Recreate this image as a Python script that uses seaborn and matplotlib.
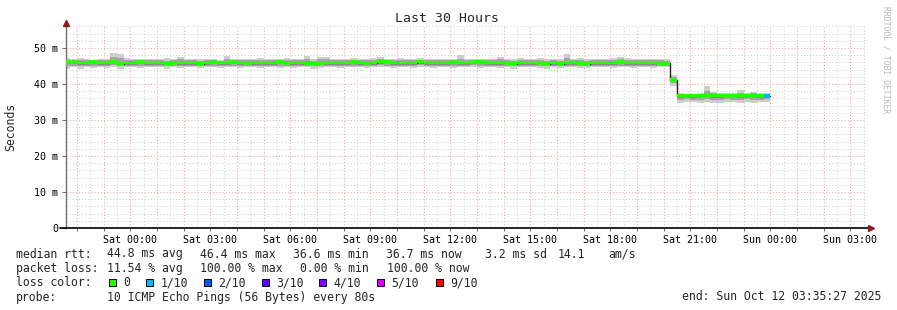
import numpy as np
import pandas as pd
import matplotlib
matplotlib.use("Agg")
import matplotlib.pyplot as plt
import matplotlib.dates as mdates
from matplotlib.patches import Rectangle
from matplotlib.ticker import FixedLocator, FuncFormatter
import seaborn as sns

# ---------------- data ----------------
bin_start = pd.date_range("2025-10-10 21:30", periods=106, freq="15min")
bin_minutes = 15
view_start = pd.Timestamp("2025-10-10 21:35:27")
view_end = pd.Timestamp("2025-10-12 03:35:27")

median_ms = [
    46.0, 46.0, 45.9, 45.9, 46.0, 45.9, 45.9, 46.0, 45.5, 45.9,
    45.9, 46.0, 45.9, 45.9, 45.9, 45.5, 45.8, 45.9, 45.9, 45.9,
    45.5, 45.9, 46.0, 45.9, 45.9, 46.0, 45.9, 45.8, 45.9, 45.9,
    45.9, 45.9, 46.0, 45.8, 45.9, 45.9, 45.8, 45.5, 45.8, 45.9,
    45.9, 45.9, 45.9, 46.0, 45.9, 45.8, 45.9, 46.2, 46.1, 45.9,
    45.9, 45.9, 45.9, 46.2, 45.9, 45.9, 45.9, 45.9, 46.0, 45.9,
    45.9, 46.1, 46.1, 45.9, 45.9, 45.9, 45.8, 45.5, 45.9, 45.9,
    45.9, 45.8, 45.5, 45.9, 45.5, 45.9, 45.9, 45.8, 45.5, 45.9,
    45.9, 45.9, 45.9, 46.0, 45.9, 45.9, 45.9, 45.9, 45.9, 45.8, 45.8,
    41.1,
    36.7, 36.6, 36.7, 36.6, 36.6, 36.7, 36.7, 36.6, 36.6, 36.7, 36.6, 36.6, 36.7, 36.6,
]
smoke_hi = [
    47.2, 46.9, 47.1, 46.9, 46.8, 46.9, 46.9, 48.7, 48.3, 47.1,
    47.0, 46.9, 46.9, 47.0, 47.0, 47.1, 47.0, 47.6, 47.0, 46.9,
    47.0, 46.9, 47.0, 46.8, 47.9, 47.0, 46.9, 47.0, 47.0, 47.1,
    46.9, 47.0, 47.0, 47.1, 47.0, 46.9, 47.7, 46.9, 47.6, 47.6,
    47.0, 46.9, 47.0, 47.1, 47.0, 46.9, 47.1, 47.5, 47.0, 47.0,
    47.1, 46.9, 47.0, 47.2, 47.0, 47.0, 46.9, 47.0, 47.0, 48.1,
    47.0, 47.0, 47.0, 46.9, 47.0, 47.6, 47.0, 47.0, 47.1, 47.0,
    47.0, 47.2, 47.0, 47.0, 47.0, 48.4, 47.0, 47.1, 47.0, 46.9,
    47.0, 47.0, 47.1, 47.6, 47.2, 47.0, 46.9, 47.0, 47.0, 47.0, 46.9,
    42.6,
    37.4, 37.1, 37.2, 37.6, 39.4, 37.8, 37.6, 37.4, 37.5, 38.3, 37.6, 37.8, 37.6, 37.4,
]
smoke_lo = [
    44.3, 44.6, 44.3, 44.6, 44.4, 44.6, 44.5, 44.6, 44.3, 44.6,
    44.6, 44.5, 44.6, 44.6, 44.6, 44.3, 44.6, 44.5, 44.6, 44.6,
    44.5, 44.6, 44.6, 44.4, 44.6, 44.6, 44.5, 44.6, 44.6, 44.4,
    44.6, 44.6, 44.5, 44.6, 44.4, 44.6, 44.6, 44.3, 44.5, 44.6,
    44.6, 44.4, 44.6, 44.6, 44.6, 44.5, 44.6, 44.6, 44.6, 44.4,
    44.6, 44.6, 44.5, 44.6, 44.6, 44.4, 44.6, 44.6, 44.5, 44.6,
    44.6, 44.6, 44.4, 44.6, 44.6, 44.5, 44.6, 44.3, 44.6, 44.6,
    44.6, 44.5, 44.3, 44.6, 44.4, 44.6, 44.6, 44.5, 44.4, 44.6,
    44.6, 44.6, 44.5, 44.6, 44.6, 44.4, 44.6, 44.6, 44.5, 44.6, 44.6,
    39.4,
    34.6, 35.0, 34.9, 34.6, 35.0, 34.8, 34.7, 35.0, 34.9, 34.6, 35.0, 34.8, 34.9, 35.0,
]
core_hi = [
    46.7, 46.6, 46.6, 46.6, 46.5, 46.6, 46.6, 47.4, 47.2, 46.6,
    46.6, 46.5, 46.6, 46.6, 46.6, 46.5, 46.6, 46.9, 46.6, 46.6,
    46.5, 46.6, 46.6, 46.5, 47.0, 46.6, 46.6, 46.6, 46.6, 46.7,
    46.6, 46.6, 46.6, 46.7, 46.6, 46.6, 46.9, 46.5, 46.9, 46.9,
    46.6, 46.6, 46.6, 46.7, 46.6, 46.6, 46.6, 46.9, 46.8, 46.6,
    46.7, 46.6, 46.6, 46.8, 46.6, 46.6, 46.6, 46.6, 46.6, 47.0,
    46.6, 46.7, 46.7, 46.6, 46.6, 46.9, 46.6, 46.5, 46.7, 46.6,
    46.6, 46.7, 46.5, 46.6, 46.5, 47.1, 46.6, 46.7, 46.5, 46.6,
    46.6, 46.6, 46.7, 46.9, 46.7, 46.6, 46.6, 46.6, 46.6, 46.6, 46.5,
    42.0,
    37.2, 37.0, 37.1, 37.3, 38.2, 37.4, 37.3, 37.2, 37.3, 37.6, 37.3, 37.4, 37.3, 37.2,
]
core_lo = [
    44.9, 45.1, 45.0, 45.1, 45.1, 45.1, 45.0, 45.2, 44.9, 45.1,
    45.1, 45.0, 45.1, 45.1, 45.1, 44.9, 45.0, 45.1, 45.1, 45.1,
    44.9, 45.1, 45.1, 45.0, 45.1, 45.1, 45.0, 45.1, 45.1, 45.0,
    45.1, 45.1, 45.1, 45.0, 45.0, 45.1, 45.1, 44.9, 45.0, 45.1,
    45.1, 45.0, 45.1, 45.1, 45.1, 45.0, 45.1, 45.2, 45.1, 45.0,
    45.1, 45.1, 45.0, 45.2, 45.1, 45.0, 45.1, 45.1, 45.1, 45.1,
    45.1, 45.2, 45.0, 45.1, 45.1, 45.1, 45.0, 44.9, 45.1, 45.1,
    45.1, 45.0, 44.9, 45.1, 44.9, 45.1, 45.1, 45.0, 44.9, 45.1,
    45.1, 45.1, 45.0, 45.1, 45.1, 45.0, 45.1, 45.1, 45.0, 45.0, 45.1,
    40.2,
    35.6, 35.8, 35.7, 35.6, 35.8, 35.7, 35.7, 35.8, 35.7, 35.6, 35.8, 35.7, 35.7, 35.8,
]
loss_tenths = [0] * 105 + [1]

loss_labels = ["0", "1/10", "2/10", "3/10", "4/10", "5/10", "9/10"]
loss_colors = ["#26ff00", "#00b8ff", "#0059ff", "#5e00ff", "#7e00ff", "#dd00ff", "#ff0000"]
loss_steps = [0, 1, 2, 3, 4, 5, 9]

y_ticks = [0, 10, 20, 30, 40, 50]
y_tick_labels = ["0", "10 m", "20 m", "30 m", "40 m", "50 m"]

title = "Last 30 Hours"
stats_rtt = ["median rtt:", "44.8 ms avg", "46.4 ms max", "36.6 ms min", "36.7 ms now",
             "3.2 ms sd", "14.1", "am/s"]
stats_loss = ["packet loss:", "11.54 % avg", "100.00 % max", "0.00 % min", "100.00 % now"]
probe_text = ["probe:", "10 ICMP Echo Pings (56 Bytes) every 80s"]
end_text = "end: Sun Oct 12 03:35:27 2025"

# ---------------- figure ----------------
W, H = 897, 310
sns.set_theme(style="white")
plt.rcParams["font.family"] = ["DejaVu Sans Mono", "DejaVu Sans"]

fig = plt.figure(figsize=(W / 100, H / 100), dpi=100)
fig.patch.set_facecolor("white")
ax = fig.add_axes([66 / W, (H - 228) / H, 800 / W, (228 - 25) / H])
ax.set_facecolor("white")

def px(x, y):
    return x / W, 1 - y / H

df = pd.DataFrame({
    "t": bin_start, "median": median_ms, "shi": smoke_hi, "slo": smoke_lo,
    "chi": core_hi, "clo": core_lo, "loss": loss_tenths,
})
width = pd.Timedelta(minutes=bin_minutes) / pd.Timedelta(days=1)
tnum = mdates.date2num(df["t"])

ax.bar(tnum, df["shi"] - df["slo"], bottom=df["slo"], width=width, align="edge",
       color="#cdcdcd", linewidth=0, zorder=2)
ax.bar(tnum, df["chi"] - df["clo"], bottom=df["clo"], width=width, align="edge",
       color="#a4a4a4", linewidth=0, zorder=3)

# median step line (black) incl. closing edge
line_df = pd.DataFrame({
    "t": list(df["t"]) + [df["t"].iloc[-1] + pd.Timedelta(minutes=bin_minutes)],
    "m": list(df["median"]) + [df["median"].iloc[-1]],
})
line_df["tn"] = mdates.date2num(line_df["t"])
sns.lineplot(data=line_df, x="tn", y="m", drawstyle="steps-post", color="#202020",
             linewidth=1.0, estimator=None, ax=ax, zorder=4)

color_map = dict(zip(loss_steps, loss_colors))
ax.bar(tnum, [0.95] * len(df), bottom=df["median"] - 0.4, width=width, align="edge",
       color=[color_map[v] for v in df["loss"]], linewidth=0, zorder=5)

ax.set_xlim(mdates.date2num(view_start), mdates.date2num(view_end))
ax.set_ylim(0, 56.4)

# grid
ax.yaxis.set_major_locator(FixedLocator(y_ticks))
ax.set_yticklabels(y_tick_labels)
ax.yaxis.set_minor_locator(FixedLocator(list(range(2, 57, 2))))
ax.xaxis.set_major_locator(mdates.HourLocator(interval=1))
ax.xaxis.set_minor_locator(mdates.MinuteLocator(byminute=[30]))

def fmt(x, pos):
    d = mdates.num2date(x)
    return d.strftime("%a %H:%M") if d.hour % 3 == 0 and d.minute == 0 else ""

ax.xaxis.set_major_formatter(FuncFormatter(fmt))
ax.grid(which="minor", color="#d0d0d0", linestyle=(0, (1, 2)), linewidth=0.75, zorder=0)
ax.grid(which="major", color="#f4a0a0", linestyle=(0, (1, 2)), linewidth=0.75, zorder=1)
ax.set_axisbelow(True)

for s in ["top", "right"]:
    ax.spines[s].set_visible(False)
ax.spines["left"].set_color("#707070")
ax.spines["left"].set_linewidth(1.0)
ax.spines["bottom"].set_visible(False)
ax.plot([-0.008, 1.003], [0, 0], transform=ax.transAxes, color="black", lw=1.2,
        clip_on=False, zorder=6)
ax.plot([0], [1.01], marker="^", color="#8b1a1a", markersize=4, transform=ax.transAxes,
        clip_on=False, zorder=6)
ax.plot([1.006], [0], marker=">", color="#8b1a1a", markersize=4, transform=ax.transAxes,
        clip_on=False, zorder=6)

ax.tick_params(axis="y", which="major", length=3, width=0.8, pad=2.5, labelsize=7.2,
               left=True, color="#707070")
ax.tick_params(axis="y", which="minor", length=0)
ax.tick_params(axis="x", which="major", length=2, width=0.8, pad=3, labelsize=7.2,
               bottom=True, color="#707070")
ax.tick_params(axis="x", which="minor", length=0)
ax.set_xlabel("")
ax.set_ylabel("")
for lab in ax.get_xticklabels() + ax.get_yticklabels():
    lab.set_color("black")

# texts
fig.text(*px(447, 19), title, ha="center", va="center", fontsize=9.5)
fig.text(*px(11, 127), "Seconds", ha="center", va="center", rotation=90, fontsize=8.3)
fig.text(*px(886, 60), "RRDTOOL / TOBI OETIKER", ha="center", va="center",
         rotation=270, fontsize=5.8, color="#b8b8b8")

fs = 8.3
y1, y2, y3, y4 = 254, 268.5, 282.5, 297
for x, s in zip([16, 107, 200, 293, 386, 485, 558, 608], stats_rtt):
    fig.text(*px(x, y1), s, ha="left", va="center", fontsize=fs)
for x, s in zip([16, 107, 200, 300, 387], stats_loss):
    fig.text(*px(x, y2), s, ha="left", va="center", fontsize=fs)
fig.text(*px(16, y3), "loss color:", ha="left", va="center", fontsize=fs)
box_x = [108.5, 146, 204, 262, 319, 377, 436]
for bx, lab, col in zip(box_x, loss_labels, loss_colors):
    fig.patches.append(Rectangle(px(bx, y3 + 3.7), 7.3 / W, 7.3 / H, transform=fig.transFigure,
                                 facecolor=col, edgecolor="black", linewidth=0.7, figure=fig))
    fig.text(*px(bx + 14.5, y3), lab, ha="left", va="center", fontsize=fs)
for x, s in zip([16, 107], probe_text):
    fig.text(*px(x, y4), s, ha="left", va="center", fontsize=fs)
fig.text(*px(881, y4), end_text, ha="right", va="center", fontsize=fs)

fig.savefig("out.png", dpi=100, facecolor="white")
